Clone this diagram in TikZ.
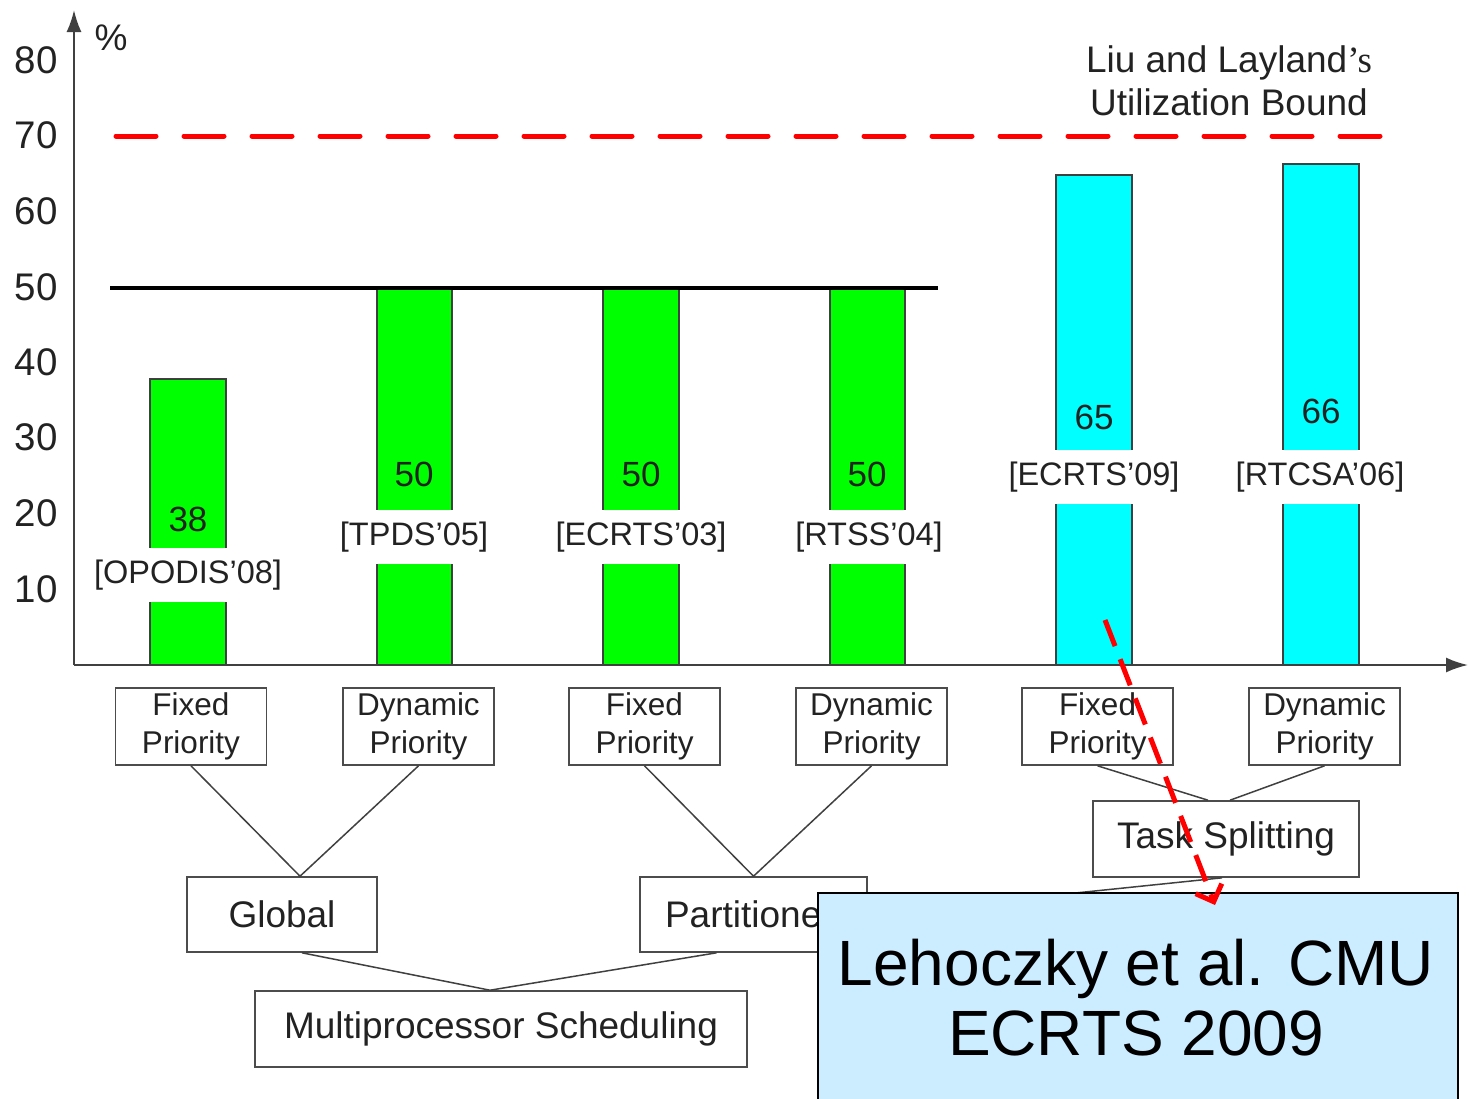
\documentclass[tikz,border=0pt]{standalone}
\usepackage{fontspec}
\setmainfont{Liberation Sans}
\newfontfamily\serifpart{Liberation Serif}
\usetikzlibrary{arrows.meta,calc}
\definecolor{bargreen}{HTML}{00FF00}
\definecolor{barcyan}{HTML}{00FFFF}
\definecolor{notefill}{HTML}{CCECFF}
\definecolor{ink}{HTML}{222222}
\begin{document}
\begin{tikzpicture}[x=1pt,y=-1pt,
  axis/.style={draw=black!75, line width=2pt},
  gbar/.style={draw=black!75, line width=2pt, fill=bargreen},
  cbar/.style={draw=black!75, line width=2pt, fill=barcyan},
  tick/.style={anchor=east, inner sep=0pt, text=ink, font=\fontsize{38.5}{40}\selectfont},
  val/.style={inner sep=0pt, text=ink, font=\fontsize{35}{40}\selectfont},
  ref/.style={fill=white, inner xsep=3pt, minimum height=54pt, text=ink, font=\fontsize{32.5}{36}\selectfont},
  box/.style={draw=black!70, line width=1.6pt, align=center, inner sep=0pt, text=ink},
  small/.style={box, minimum width=151pt, minimum height=77pt, font=\fontsize{31.5}{38}\selectfont},
  big/.style={box, minimum height=76pt, font=\fontsize{37}{40}\selectfont},
  link/.style={draw=black!75, line width=1.5pt},
  bound/.style={draw=red, line width=5pt, line cap=round, dash pattern=on 40pt off 28pt},
  pointer/.style={draw=red, line width=5pt, dash pattern=on 28pt off 14pt, -{Straight Barb[length=14pt,width=28pt]}}
]
\useasboundingbox (0,0) rectangle (1469,1098);

% bars
\filldraw[gbar] (150,379) rectangle (226,665);
\filldraw[gbar] (377,288) rectangle (452,665);
\filldraw[gbar] (603,288) rectangle (679,665);
\filldraw[gbar] (830,288) rectangle (905,665);
\filldraw[cbar] (1056,175) rectangle (1132,665);
\filldraw[cbar] (1283,164) rectangle (1359,665);

% axes
\coordinate (o) at (74,665);
\coordinate (ytip) at (74,10);
\coordinate (xtip) at (1468,665);
\draw[axis, -{Latex[length=22pt,width=15pt]}] (o) -- (ytip);
\draw[axis, -{Latex[length=22pt,width=15pt]}] (o) -- (xtip);
\node[inner sep=0pt, text=ink, font=\fontsize{37}{40}\selectfont] (pct) at (111,38) {\%};

\foreach \v/\yy in {80/60,70/135,60/211,50/287,40/362,30/437,20/513,10/589}
  \node[tick] (t\v) at (58,\yy) {\v};

% bounds
\draw[line width=4pt, black] (110,288) -- (938,288);
\draw[bound] (116,136) -- (1380,136);
\node[align=center, inner sep=0pt, text=ink, font=\fontsize{37}{43}\selectfont] (liu) at (1229,81)
  {Liu and Layland{\serifpart’s}\\Utilization Bound};

% bar values and references
\node[val] (v1) at (188,519) {38};
\node[val] (v2) at (414,474) {50};
\node[val] (v3) at (641,474) {50};
\node[val] (v4) at (867,474) {50};
\node[val] (v5) at (1094,417) {65};
\node[val] (v6) at (1321,411) {66};
\node[ref] (r1) at (188,575) {[OPODIS’08]};
\node[ref] (r2) at (414,537) {[TPDS’05]};
\node[ref] (r3) at (641,537) {[ECRTS’03]};
\node[ref] (r4) at (869,537) {[RTSS’04]};
\node[ref] (r5) at (1094,477) {[ECRTS’09]};
\node[ref] (r6) at (1320,477) {[RTCSA’06]};

% classification tree
\node[small] (fp1) at (191,726.5) {Fixed\\Priority};
\node[small] (dp2) at (418.5,726.5) {Dynamic\\Priority};
\node[small] (fp3) at (644.5,726.5) {Fixed\\Priority};
\node[small] (dp4) at (871.5,726.5) {Dynamic\\Priority};
\node[small] (fp5) at (1097.5,726.5) {Fixed\\Priority};
\node[small] (dp6) at (1324.5,726.5) {Dynamic\\Priority};
\node[big, minimum width=266pt] (ts) at (1226,839) {Task Splitting};
\node[big, minimum width=190pt, minimum height=75pt] (glob) at (282,914.5) {Global};
\node[big, minimum width=227pt, minimum height=75pt] (part) at (753.5,914.5) {Partitioned};
\node[big, minimum width=492pt] (multi) at (501,1029) {Multiprocessor Scheduling};

\draw[link] (fp1.south) -- ($(glob.north)+(18,0)$) -- (dp2.south);
\draw[link] (fp3.south) -- (part.north) -- (dp4.south);
\draw[link] (fp5.south) -- ($(ts.north)+(-18,0)$);
\draw[link] (dp6.south) -- ($(ts.north)+(4,0)$);
\draw[link] ($(glob.south)+(20,0)$) -- ($(multi.north)+(-11,0)$) -- ($(part.south)+(-37,0)$);
\draw[link] ($(ts.south)+(-4,0)$) -- (part.east);

% note
\node[draw=black, line width=2pt, fill=notefill, anchor=north west,
      minimum width=640pt, minimum height=230pt, inner sep=0pt] (note) at (817,892) {};
\node[align=center, inner sep=0pt, font=\fontsize{64}{70}\selectfont] (notetext) at (1136,998)
  {Lehoczky et al. CMU\\ECRTS 2009};

\coordinate (pstart) at (1105,620);
\coordinate (pend) at (1215,905);
\draw[pointer] (pstart) -- (pend);
\end{tikzpicture}
\end{document}
